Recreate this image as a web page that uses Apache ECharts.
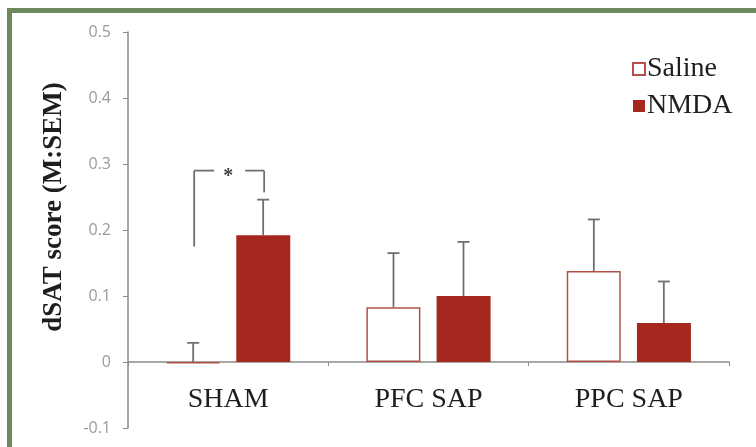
<!DOCTYPE html>
<html>
<head>
<meta charset="utf-8">
<script src="https://cdn.jsdelivr.net/npm/echarts@6/dist/echarts.min.js"></script>
<style>
html,body{margin:0;padding:0;background:#fff;}
#wrap{position:relative;width:756px;height:447px;overflow:hidden;}
#frameTop{position:absolute;left:7px;top:8px;width:760px;height:5px;background:#6e8a5c;}
#frameLeft{position:absolute;left:7px;top:8px;width:5px;height:460px;background:#6e8a5c;}
#chart{position:absolute;left:0;top:0;width:756px;height:447px;}
</style>
</head>
<body>
<div id="wrap">
<div id="chart"></div>
<div id="frameTop"></div>
<div id="frameLeft"></div>
</div>
<script>
const categories = ['SHAM', 'PFC SAP', 'PPC SAP'];
const salineMean = [-0.002, 0.083, 0.138];
const salineSEM  = [0.031, 0.082, 0.078];
const nmdaMean   = [0.192, 0.100, 0.059];
const nmdaSEM    = [0.054, 0.082, 0.063];
const yTicks = [-0.1, 0, 0.1, 0.2, 0.3, 0.4, 0.5];
// significance bracket: [category index, top value, left foot value, right foot value]
const sigBracket = [0, 0.290, 0.175, 0.257];
const sigLabel = '*';

const BAR_W = 54, HALF_OFF = 35;
const serif = '"Liberation Serif", "Times New Roman", serif';

const chart = echarts.init(document.getElementById('chart'), null, {renderer: 'canvas'});

function errorSeries(name, means, sems, sign) {
  return {
    type: 'custom',
    name: name + ' SEM',
    z: 10,
    silent: true,
    data: means.map((m, i) => [i, m, m + sems[i]]),
    renderItem: function (params, api) {
      const c = api.value(0);
      const base = api.coord([c, Math.max(api.value(1), 0)]);
      const top = api.coord([c, api.value(2)]);
      const x = base[0] + sign * HALF_OFF;
      const style = {stroke: '#6f6f6f', lineWidth: 1.8};
      return {
        type: 'group',
        children: [
          {type: 'line', shape: {x1: x, y1: base[1], x2: x, y2: top[1]}, style: style},
          {type: 'line', shape: {x1: x - 6, y1: top[1], x2: x + 6, y2: top[1]}, style: style}
        ]
      };
    }
  };
}

const option = {
  animation: false,
  backgroundColor: '#fff',
  grid: {left: 128, right: 27, top: 32, bottom: 19, containLabel: false, outerBoundsMode: 'none'},
  legend: {
    data: ['Saline', 'NMDA'],
    orient: 'vertical',
    left: 627,
    top: 50,
    icon: 'rect',
    itemWidth: 12,
    itemHeight: 12,
    itemGap: 9,
    textStyle: {fontFamily: serif, fontSize: 28, color: '#1e1e1e', padding: [0, 0, 0, -3]},
    selectedMode: false
  },
  xAxis: {
    type: 'category',
    data: categories,
    axisLine: {onZero: true, lineStyle: {color: '#8a8a8a', width: 1.5}},
    axisTick: {show: true, length: 4, lineStyle: {color: '#8a8a8a'}},
    axisLabel: {fontFamily: serif, fontSize: 28, color: '#1e1e1e', margin: -42},
    splitLine: {show: false}
  },
  yAxis: {
    type: 'value',
    min: yTicks[0],
    max: yTicks[yTicks.length - 1],
    interval: 0.1,
    axisLine: {show: true, lineStyle: {color: '#8a8a8a', width: 1.5}},
    axisTick: {show: true, length: 5, lineStyle: {color: '#8a8a8a'}},
    axisLabel: {
      fontFamily: '"Open Sans", "Liberation Sans", sans-serif',
      fontSize: 16,
      color: '#9a9a9a',
      margin: 17,
      formatter: v => Math.abs(v) < 1e-9 ? '0' : v.toFixed(1)
    },
    splitLine: {show: false}
  },
  graphic: [{
    type: 'text',
    x: 54, y: 207,
    rotation: Math.PI / 2,
    style: {
      text: 'dSAT score (M:SEM)',
      font: 'bold 27px ' + serif,
      fill: '#1e1e1e',
      align: 'center',
      verticalAlign: 'middle'
    }
  }],
  series: [
    {
      name: 'Saline',
      type: 'bar',
      data: salineMean,
      barWidth: BAR_W,
      barGap: '30%',
      itemStyle: {color: '#ffffff', borderColor: '#b25049', borderWidth: 1.5}
    },
    {
      name: 'NMDA',
      type: 'bar',
      data: nmdaMean,
      barWidth: BAR_W,
      barGap: '30%',
      itemStyle: {color: '#a5281f', borderColor: '#a5281f', borderWidth: 0}
    },
    errorSeries('Saline', salineMean, salineSEM, -1),
    errorSeries('NMDA', nmdaMean, nmdaSEM, 1),
    {
      type: 'custom',
      name: 'significance',
      z: 11,
      silent: true,
      data: [sigBracket],
      renderItem: function (params, api) {
        const c = api.value(0);
        const topP = api.coord([c, api.value(1)]);
        const lf = api.coord([c, api.value(2)]);
        const rf = api.coord([c, api.value(3)]);
        const xl = topP[0] - HALF_OFF + 1, xr = topP[0] + HALF_OFF + 1, xm = topP[0];
        const st = {stroke: '#6f6f6f', lineWidth: 1.8};
        return {
          type: 'group',
          children: [
            {type: 'line', shape: {x1: xl, y1: lf[1], x2: xl, y2: topP[1]}, style: st},
            {type: 'line', shape: {x1: xl, y1: topP[1], x2: xl + 20, y2: topP[1]}, style: st},
            {type: 'line', shape: {x1: xr - 19, y1: topP[1], x2: xr, y2: topP[1]}, style: st},
            {type: 'line', shape: {x1: xr, y1: topP[1], x2: xr, y2: rf[1]}, style: st},
            {type: 'text', x: xm, y: topP[1] + 6, style: {text: sigLabel, font: 'bold 20px ' + serif, fill: '#444', align: 'center', verticalAlign: 'middle'}}
          ]
        };
      }
    }
  ]
};
chart.setOption(option);
</script>
</body>
</html>
